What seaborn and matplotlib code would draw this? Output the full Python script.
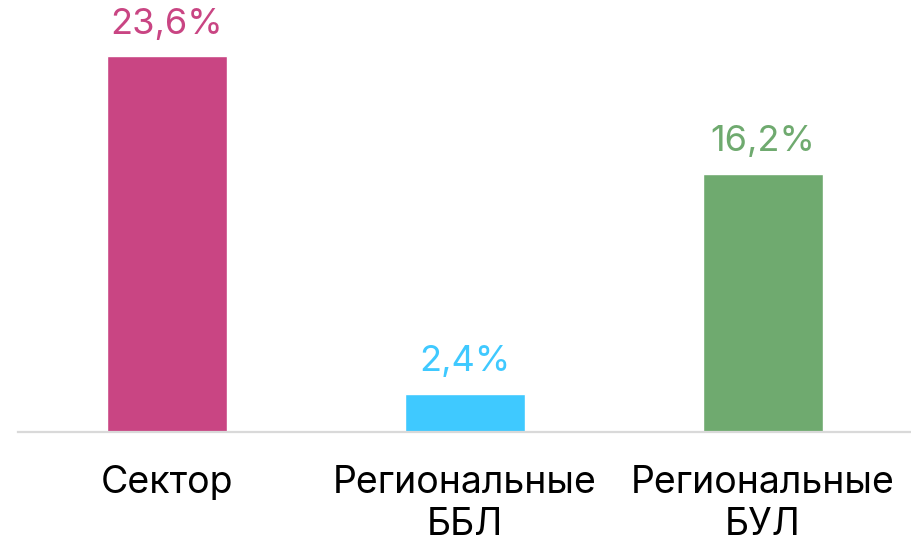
import matplotlib
matplotlib.use("Agg")
import matplotlib.pyplot as plt
import pandas as pd
import seaborn as sns

# data
categories = ["Сектор", "Региональные\nББЛ", "Региональные\nБУЛ"]
values = [23.6, 2.4, 16.2]
colors = ["#C94583", "#3FC9FF", "#6FAA6F"]

df = pd.DataFrame({"cat": categories, "val": values})

sns.set_style("white")
plt.rcParams["font.family"] = ["Inter", "DejaVu Sans"]

fig = plt.figure(figsize=(9.12, 5.45), dpi=100)
ax = fig.add_axes([18 / 912, 113 / 545, 894 / 912, 432 / 545])

sns.barplot(data=df, x="cat", y="val", hue="cat", palette=colors,
            width=0.4, legend=False, ax=ax, saturation=1)

# value labels in bar colour
for cont, c, v in zip(ax.containers, colors, values):
    ax.bar_label(cont, labels=[f"{v:.1f}%".replace(".", ",")], color=c,
                 fontsize=26, padding=11)

ax.set_xlim(-0.5, 2.5)
ax.set_ylim(0, 27.1)
ax.set_xlabel("")
ax.set_ylabel("")
ax.set_yticks([])
ax.tick_params(axis="x", length=0, pad=24, labelsize=27, labelcolor="black")
for lab in ax.get_xticklabels():
    lab.set_linespacing(1.2)

for s in ["top", "right", "left"]:
    ax.spines[s].set_visible(False)
ax.spines["bottom"].set_color("#D9D9D9")
ax.spines["bottom"].set_linewidth(1.6)

fig.savefig("out.png", dpi=100)
